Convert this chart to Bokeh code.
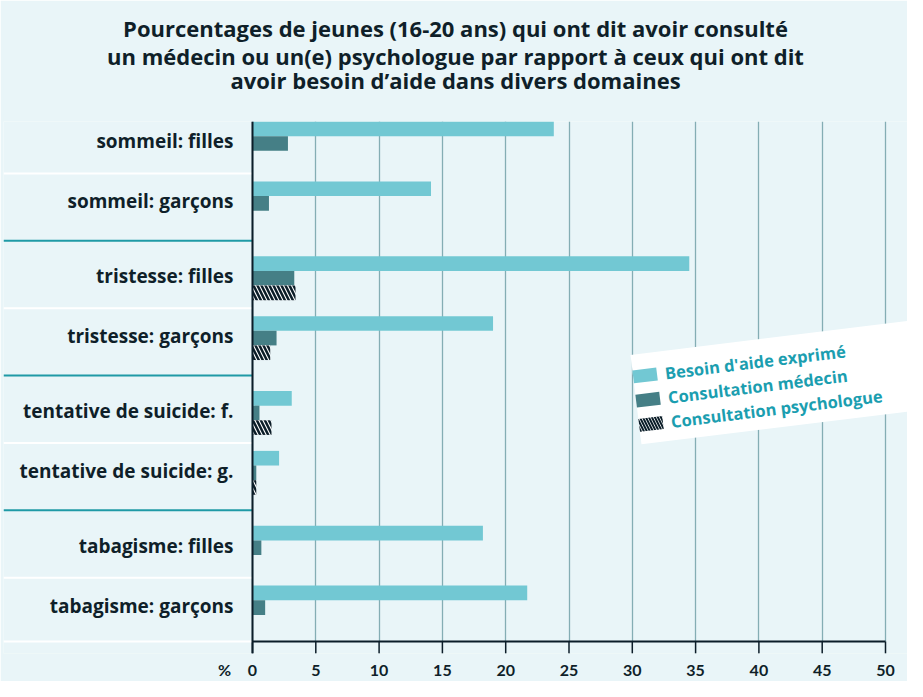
import math
from bokeh.plotting import figure
from bokeh.models import Range1d, FixedTicker, ColumnDataSource, Title
from bokeh.core.properties import value
from bokeh.embed import file_html
from bokeh.resources import INLINE

# ---------------- data ----------------
categories = ["sommeil: filles", "sommeil: garçons",
              "tristesse: filles", "tristesse: garçons",
              "tentative de suicide: f.", "tentative de suicide: g.",
              "tabagisme: filles", "tabagisme: garçons"]
groups = [0, 0, 1, 1, 2, 2, 3, 3]
besoin = [23.8, 14.1, 34.5, 19.0, 3.1, 2.1, 18.2, 21.7]
medecin = [2.8, 1.3, 3.3, 1.9, 0.55, 0.3, 0.7, 1.0]
psychologue = [float("nan"), float("nan"), 3.4, 1.4, 1.5, 0.3, float("nan"), float("nan")]
x_ticks = [0, 5, 10, 15, 20, 25, 30, 35, 40, 45, 50]
series_names = ["Besoin d'aide exprimé", "Consultation médecin", "Consultation psychologue"]
title_lines = ["Pourcentages de jeunes (16-20 ans) qui ont dit avoir consulté",
               "un médecin ou un(e) psychologue par rapport à ceux qui ont dit",
               "avoir besoin d’aide dans divers domaines"]
unit_label = "%"
unit_pos = -2.2

# ---------------- style / layout ----------------
BG = "#e9f5f8"
LIGHT = "#72c8d3"
DARK = "#457f86"
GRID = "#84adb4"
AXIS = "#0b1d28"
TEAL = "#1f9aa6"
LEGTXT = "#1b9eb0"
TXT = "#0f1f29"

W, H = 907, 681
PAGE = 8
ZERO_X = 260.0          # page px of value 0
PX_PER = (893.0 - 260.0) / 50.0
FRAME_L, FRAME_R = 11.0, 915.0
TOP, BOTTOM = 129.0, 650.0
TICK_LEN = 12.0
FRAME_B = BOTTOM + TICK_LEN

ROW0, GROUP_PITCH, ROW_PITCH, SLOT = 151.0, 135.0, 60.0, 14.67


def dx(page_x):
    return (page_x - ZERO_X) / PX_PER


# row centers from group / position in group
centers = []
seen = {}
for g in groups:
    r = seen.get(g, 0)
    seen[g] = r + 1
    centers.append(ROW0 + g * GROUP_PITCH + r * ROW_PITCH)

p = figure(width=W, height=H, title=None,
           x_range=Range1d(dx(FRAME_L), dx(FRAME_R)),
           y_range=Range1d(FRAME_B, TOP),
           output_backend="svg", toolbar_location=None,
           y_axis_location=None,
           min_border_left=int(FRAME_L - PAGE), min_border_right=0,
           min_border_top=int(TOP - PAGE), min_border_bottom=int(H + PAGE - FRAME_B),
           background_fill_color=BG, border_fill_color=BG,
           outline_line_color=None)

# spacer between title block and plot, then title lines (closest first)
p.add_layout(Title(text=" ", text_font_size="12px", standoff=15), "above")
title_standoffs = [0, -8, -8]
for line, so in reversed(list(zip(title_lines, title_standoffs))):
    p.add_layout(Title(text=line, align="center", text_font="Open Sans",
                       text_font_style="bold", text_font_size="22px", text_color=TXT,
                       standoff=so, offset=3), "above")

p.ygrid.visible = False
p.xgrid.ticker = FixedTicker(ticks=x_ticks)
p.xgrid.grid_line_color = GRID
p.xgrid.grid_line_width = 1.3

ax = p.xaxis[0]
ax.ticker = FixedTicker(ticks=[unit_pos] + x_ticks)
ax.major_label_overrides = {unit_pos: unit_label}
ax.axis_line_color = None
ax.major_tick_in = 0
ax.major_tick_out = 0
ax.major_tick_line_color = None
ax.minor_tick_line_color = None
ax.major_label_standoff = 6
ax.major_label_text_font = "Lato"
ax.major_label_text_font_style = "bold"
ax.major_label_text_font_size = "16px"
ax.major_label_text_color = TXT

src = ColumnDataSource(dict(
    yb=[c - SLOT for c in centers], ym=centers, yp=[c + SLOT for c in centers],
    besoin=besoin, medecin=medecin, psychologue=psychologue,
    ly=[c - 2 for c in centers], cat=categories))

# cover grid below the axis line, then draw dark tick marks
p.quad(left=[dx(FRAME_L)], right=[dx(FRAME_R)], bottom=[FRAME_B], top=[BOTTOM],
       fill_color=BG, line_color=None)
p.segment(x0=x_ticks, x1=x_ticks, y0=[BOTTOM] * len(x_ticks), y1=[FRAME_B] * len(x_ticks),
          line_color=AXIS, line_width=1.5)

p.hbar(y="yb", left=0, right="besoin", height=SLOT, source=src,
       fill_color=LIGHT, line_color=None)
p.hbar(y="ym", left=0, right="medecin", height=SLOT, source=src,
       fill_color=DARK, line_color=None)
p.hbar(y="yp", left=0, right="psychologue", height=SLOT, source=src,
       fill_color="white", line_color=None, hatch_pattern="\\",
       hatch_color=AXIS, hatch_scale=8, hatch_weight=2.5)

# separators in label area
xs0 = dx(FRAME_L)
white_y, teal_y = [], []
for i in range(len(centers) - 1):
    mid = (centers[i] + centers[i + 1]) / 2
    if groups[i] == groups[i + 1]:
        white_y.append(mid)
    else:
        teal_y.append(mid)
white_y.append(BOTTOM)
p.segment(x0=[xs0] * len(white_y), x1=[0] * len(white_y), y0=white_y, y1=white_y,
          line_color="white", line_width=2)
p.segment(x0=[xs0] * len(teal_y), x1=[0] * len(teal_y), y0=teal_y, y1=teal_y,
          line_color=TEAL, line_width=2)

# axis lines
p.segment(x0=[0], x1=[0], y0=[TOP], y1=[FRAME_B], line_color=AXIS, line_width=2)
p.segment(x0=[0], x1=[x_ticks[-1]], y0=[BOTTOM], y1=[BOTTOM], line_color=AXIS, line_width=2)

# category labels
p.text(x=dx(241), y="ly", text="cat", source=src, text_align="right",
       text_baseline="middle", text_font=value("Open Sans"), text_font_style="bold",
       text_font_size="19px", text_color=TXT)

# legend (rotated box)
th = math.radians(7)
LTL = (638.0, 363.0)


def loc(s, t):
    px_ = LTL[0] + s * math.cos(th) + t * math.sin(th)
    py_ = LTL[1] - s * math.sin(th) + t * math.cos(th)
    return dx(px_), py_


BW, BH = 340, 90
bc = loc(BW / 2, BH / 2)
p.rect(x=[bc[0]], y=[bc[1]], width=BW, height=BH, width_units="screen",
       height_units="screen", angle=th, fill_color="white", line_color=None)
row_t = [22, 46.5, 71]
sw = [loc(12, t) for t in row_t]
p.rect(x=[sw[0][0]], y=[sw[0][1]], width=24, height=13, width_units="screen",
       height_units="screen", angle=th, fill_color=LIGHT, line_color=None)
p.rect(x=[sw[1][0]], y=[sw[1][1]], width=24, height=13, width_units="screen",
       height_units="screen", angle=th, fill_color=DARK, line_color=None)
p.rect(x=[sw[2][0]], y=[sw[2][1]], width=24, height=13, width_units="screen",
       height_units="screen", angle=th, fill_color="white", line_color=None,
       hatch_pattern="\\", hatch_color=AXIS, hatch_scale=6, hatch_weight=2)
tl = [loc(32, t) for t in row_t]
p.text(x=[q[0] for q in tl], y=[q[1] for q in tl], text=series_names, angle=th,
       text_align="left", text_baseline="middle", text_font=value("Open Sans"),
       text_font_style="bold", text_font_size="16.5px", text_color=LEGTXT)

open("out.html", "w").write(file_html(p, INLINE))
